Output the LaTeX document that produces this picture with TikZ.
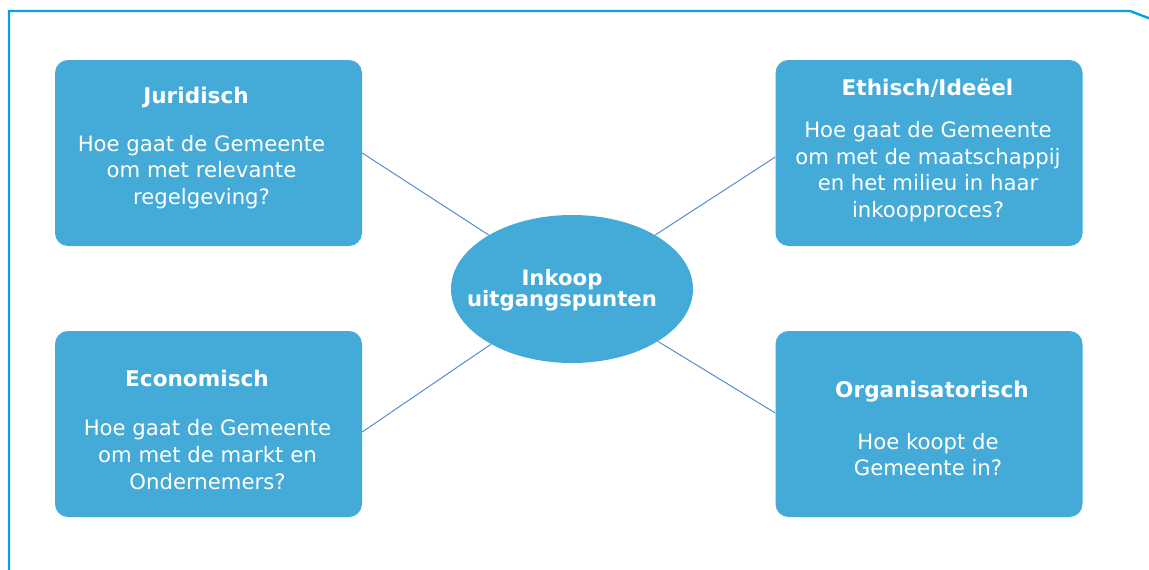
\documentclass[tikz,border=0pt]{standalone}
\usepackage{fontspec}
\setmainfont{DejaVu Sans}
\usetikzlibrary{shapes.geometric}
\definecolor{boxblue}{RGB}{68,170,216}
\definecolor{frameblue}{RGB}{12,160,225}
\definecolor{linkblue}{RGB}{85,140,210}
\begin{document}
\begin{tikzpicture}[x=1pt,y=-1pt,
  card/.style={fill=boxblue,draw=none,rounded corners=13pt,minimum width=307pt,minimum height=186pt,inner sep=0pt},
  hub/.style={ellipse,fill=boxblue,draw=none,minimum width=242pt,minimum height=148pt,inner sep=0pt},
  ttl/.style={text=white,font=\bfseries\fontsize{21.6}{24}\selectfont,inner sep=0pt},
  bdy/.style={text=white,align=center,font=\fontsize{21.2}{26.7}\selectfont,inner sep=0pt},
  hubtxt/.style={text=white,align=center,font=\bfseries\fontsize{21.2}{21.5}\selectfont,inner sep=0pt},
  link/.style={draw=linkblue,line width=1pt}]
\useasboundingbox (0,0) rectangle (1149,570);
\draw[frameblue,line width=2.4pt] (9,572) -- (9,11) -- (1130,11) -- (1151,19);

\node[card] (jur) at (208.5,153) {};
\node[card] (eth) at (929,153) {};
\node[card] (eco) at (208.5,424) {};
\node[card] (org) at (929,424) {};
\node[hub] (hub) at (572,289) {};

\node[ttl] (jurt) at (196,97) {Juridisch};
\node[bdy] (jurb) at (201.5,172) {Hoe gaat de Gemeente\\om met relevante\\regelgeving?};

\node[ttl] (etht) at (927.5,88) {Ethisch/Ideëel};
\node[bdy] (ethb) at (928,171.5) {Hoe gaat de Gemeente\\om met de maatschappij\\en het milieu in haar\\inkoopproces?};

\node[ttl] (ecot) at (197,378) {Economisch};
\node[bdy] (ecob) at (207.5,454.5) {Hoe gaat de Gemeente\\om met de markt en\\Ondernemers?};

\node[ttl] (orgt) at (932,392) {Organisatorisch};
\node[bdy] (orgb) at (928,454.5) {Hoe koopt de\\Gemeente in?};

\node[hubtxt] (hubt) at (562,290) {Inkoop\\uitgangspunten};

\draw[link] (jur.east) -- (hub);
\draw[link] ([yshift=-4pt]eth.west) -- (hub);
\draw[link] ([yshift=-8pt]eco.east) -- (hub);
\draw[link] ([yshift=11pt]org.west) -- (hub);
\end{tikzpicture}
\end{document}
